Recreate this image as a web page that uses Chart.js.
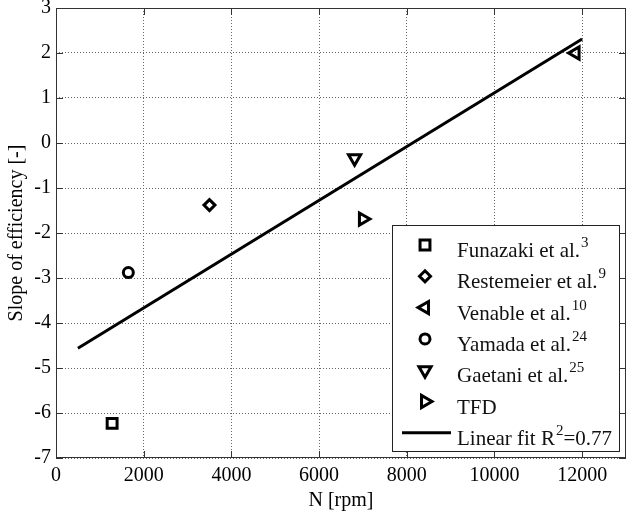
<!DOCTYPE html>
<html>
<head>
<meta charset="utf-8">
<script src="https://cdn.jsdelivr.net/npm/chart.js@4/dist/chart.umd.min.js"></script>
<style>
  body { margin: 0; background: #fff; }
  canvas { display: block; }
</style>
</head>
<body>
<canvas id="chart" width="626" height="515"></canvas>
<script>
// measured points, slope of efficiency vs rotational speed
const funazakiN = [1280];
const funazakiSlope = [-6.23];
const restemeierN = [3500];
const restemeierSlope = [-1.38];
const venableN = [11850];
const venableSlope = [2.0];
const yamadaN = [1650];
const yamadaSlope = [-2.88];
const gaetaniN = [6810];
const gaetaniSlope = [-0.34];
const tfdN = [7000];
const tfdSlope = [-1.69];
const fitN = [500, 12000];
const fitSlope = [-4.56, 2.31];

const xTickValues = [0, 2000, 4000, 6000, 8000, 10000, 12000];
const yTickValues = [-7, -6, -5, -4, -3, -2, -1, 0, 1, 2, 3];

// legend text, ^{..} marks a superscript
const legendLabels = [
  "Funazaki et al.^{3}",
  "Restemeier et al.^{9}",
  "Venable et al.^{10}",
  "Yamada et al.^{24}",
  "Gaetani et al.^{25}",
  "TFD",
  "Linear fit R^{2}=0.77"
];

const serif = "'Liberation Serif', 'Times New Roman', serif";

const toPoints = (xs, ys) => xs.map((x, i) => ({ x: x, y: ys[i] }));

const marker = (label, xs, ys, style, rotation, radius) => ({
  label: label,
  data: toPoints(xs, ys),
  pointStyle: style,
  rotation: rotation,
  pointRadius: radius,
  pointHoverRadius: radius,
  pointBorderWidth: 3,
  pointBorderColor: "#000",
  pointBackgroundColor: "rgba(0,0,0,0)",
  showLine: false
});

const datasets = [
  marker(legendLabels[0], funazakiN, funazakiSlope, "rect", 0, 7),
  marker(legendLabels[1], restemeierN, restemeierSlope, "rectRot", 0, 5.5),
  marker(legendLabels[2], venableN, venableSlope, "triangle", -90, 7),
  marker(legendLabels[3], yamadaN, yamadaSlope, "circle", 0, 5),
  marker(legendLabels[4], gaetaniN, gaetaniSlope, "triangle", 180, 7),
  marker(legendLabels[5], tfdN, tfdSlope, "triangle", 90, 7),
  {
    label: legendLabels[6],
    data: toPoints(fitN, fitSlope),
    showLine: true,
    borderColor: "#000",
    borderWidth: 3,
    pointRadius: 0,
    fill: false
  }
];

const drawRich = (ctx, text, x, y) => {
  const parts = text.split(/\^\{([^}]*)\}/);
  let cx = x;
  parts.forEach((p, i) => {
    if (!p) return;
    if (i % 2 === 1) {
      ctx.font = "15px " + serif;
      ctx.fillText(p, cx + 1, y - 10);
      cx += ctx.measureText(p).width + 1;
    } else {
      ctx.font = "21px " + serif;
      ctx.fillText(p, cx, y);
      cx += ctx.measureText(p).width;
    }
  });
};

// matlab style box, inward ticks and legend
const boxPlugin = {
  id: "boxPlugin",
  afterDraw(chart) {
    const ctx = chart.ctx;
    const a = chart.chartArea;
    const xs = chart.scales.x, ys = chart.scales.y;
    ctx.save();
    ctx.strokeStyle = "#333";
    ctx.lineWidth = 1;
    ctx.setLineDash([]);
    ctx.strokeRect(a.left + 0.5, a.top + 0.5, a.right - a.left - 1, a.bottom - a.top - 1);
    const tl = 7;
    ctx.beginPath();
    xs.ticks.forEach((t) => {
      const px = Math.round(xs.getPixelForValue(t.value)) + 0.5;
      ctx.moveTo(px, a.bottom); ctx.lineTo(px, a.bottom - tl);
      ctx.moveTo(px, a.top); ctx.lineTo(px, a.top + tl);
    });
    ys.ticks.forEach((t) => {
      const py = Math.round(ys.getPixelForValue(t.value)) + 0.5;
      ctx.moveTo(a.left, py); ctx.lineTo(a.left + tl, py);
      ctx.moveTo(a.right, py); ctx.lineTo(a.right - tl, py);
    });
    ctx.stroke();

    // legend
    const bx = 392.5, by = 225.5, bw = 227, bh = 226;
    ctx.fillStyle = "#fff";
    ctx.fillRect(bx, by, bw, bh);
    ctx.strokeStyle = "#222";
    ctx.strokeRect(bx, by, bw, bh);
    const rowStart = 245, rowStep = 31.3, mx = 425, tx = 457;
    chart.data.datasets.forEach((ds, i) => {
      const ry = rowStart + i * rowStep;
      ctx.strokeStyle = "#000";
      ctx.fillStyle = "rgba(0,0,0,0)";
      if (ds.showLine) {
        ctx.lineWidth = 3;
        ctx.beginPath();
        ctx.moveTo(402, ry); ctx.lineTo(451, ry);
        ctx.stroke();
      } else {
        ctx.lineWidth = 3;
        Chart.helpers.drawPoint(ctx, {
          pointStyle: ds.pointStyle,
          rotation: ds.rotation,
          radius: ds.pointRadius,
          borderWidth: 3
        }, mx, ry);
      }
      ctx.fillStyle = "#111";
      ctx.textAlign = "left";
      ctx.textBaseline = "alphabetic";
      drawRich(ctx, ds.label, tx, ry + 12);
    });
    ctx.restore();
  }
};

new Chart(document.getElementById("chart"), {
  type: "scatter",
  data: { datasets: datasets },
  options: {
    responsive: false,
    animation: false,
    layout: { autoPadding: false, padding: { top: 8, right: 0, left: 0, bottom: 0 } },
    plugins: {
      legend: { display: false },
      tooltip: { enabled: false }
    },
    scales: {
      x: {
        type: "linear",
        min: 0,
        max: 13000,
        afterBuildTicks: (s) => { s.ticks = xTickValues.map((v) => ({ value: v })); },
        ticks: {
          autoSkip: false,
          maxRotation: 0,
          padding: 6,
          color: "#000",
          font: { family: serif, size: 20 },
          callback: (v) => String(v)
        },
        grid: { color: "#666", drawTicks: false, lineWidth: 1 },
        border: { display: false, dash: [1, 2] },
        title: {
          display: true,
          text: "N [rpm]",
          color: "#000",
          font: { family: serif, size: 20 },
          padding: { top: 0, bottom: 2 }
        },
        afterFit: (s) => {
          s.height = 57;
          s.paddingLeft = 0;
          s.paddingRight = 0;
        }
      },
      y: {
        type: "linear",
        min: -7,
        max: 3,
        afterBuildTicks: (s) => { s.ticks = yTickValues.map((v) => ({ value: v })); },
        ticks: {
          autoSkip: false,
          padding: 5,
          color: "#000",
          font: { family: serif, size: 20 },
          callback: (v) => String(v)
        },
        grid: { color: "#666", drawTicks: false, lineWidth: 1 },
        border: { display: false, dash: [1, 2] },
        title: {
          display: true,
          text: "Slope of efficiency [-]",
          color: "#000",
          font: { family: serif, size: 20 },
          padding: { top: 5, bottom: 0 }
        },
        afterFit: (s) => {
          s.width = 56;
          s.paddingTop = 0;
          s.paddingBottom = 0;
        }
      }
    }
  },
  plugins: [boxPlugin]
});
</script>
</body>
</html>
